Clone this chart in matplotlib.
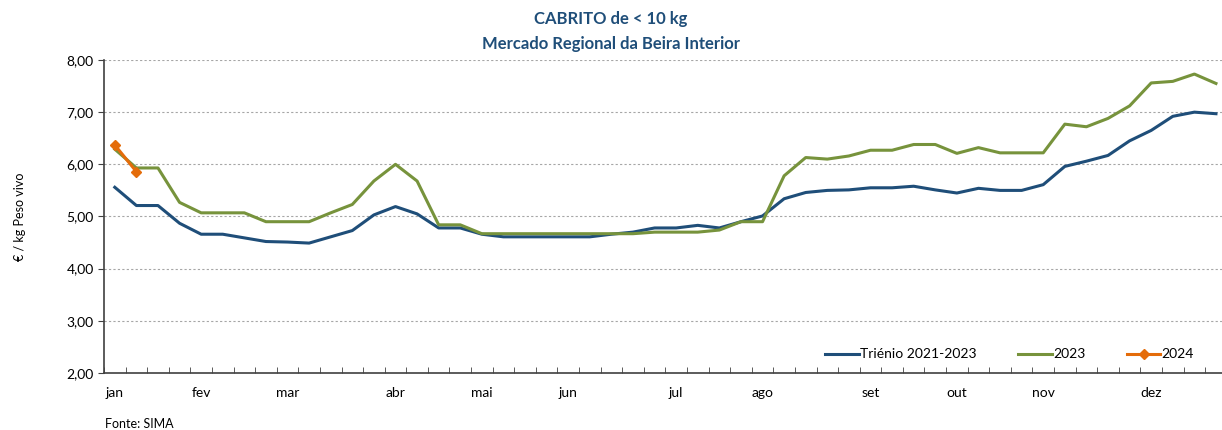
import matplotlib
matplotlib.use("Agg")
from matplotlib import pyplot as plt
from matplotlib.ticker import FuncFormatter, MultipleLocator

plt.rcParams['font.family'] = ['Lato', 'DejaVu Sans']

# semanas (52) - so a primeira semana de cada mes tem rotulo
meses = ['jan', 'fev', 'mar', 'abr', 'mai', 'jun', 'jul', 'ago', 'set', 'out', 'nov', 'dez']
semana_mes = [0, 4, 8, 13, 17, 21, 26, 30, 35, 39, 43, 48]

trienio = [5.56, 5.21, 5.21, 4.87, 4.66, 4.66, 4.59, 4.52, 4.51, 4.49,
           4.61, 4.73, 5.03, 5.19, 5.05, 4.78, 4.78, 4.66, 4.61, 4.61,
           4.61, 4.61, 4.61, 4.66, 4.70, 4.78, 4.78, 4.83, 4.78, 4.90,
           5.01, 5.34, 5.46, 5.50, 5.51, 5.55, 5.55, 5.58, 5.51, 5.45,
           5.54, 5.50, 5.50, 5.61, 5.96, 6.06, 6.17, 6.45, 6.65, 6.92,
           7.00, 6.97]
ano2023 = [6.29, 5.93, 5.93, 5.27, 5.07, 5.07, 5.07, 4.90, 4.90, 4.90,
           5.07, 5.23, 5.68, 6.00, 5.68, 4.84, 4.84, 4.67, 4.67, 4.67,
           4.67, 4.67, 4.67, 4.67, 4.67, 4.70, 4.70, 4.70, 4.74, 4.90,
           4.90, 5.78, 6.13, 6.10, 6.16, 6.27, 6.27, 6.38, 6.38, 6.21,
           6.32, 6.22, 6.22, 6.22, 6.77, 6.72, 6.88, 7.12, 7.56, 7.59,
           7.73, 7.55]
ano2024 = [6.37, 5.86]

azul = '#1F4E79'
verde = '#77933C'
laranja = '#E46C0A'

fig = plt.figure(figsize=(12.22, 4.30), dpi=100)
ax = fig.add_axes([0.0851, 0.1326, 0.9188, 0.7279])

x = list(range(len(trienio)))
ax.plot(x, trienio, color=azul, lw=2.2, label='Triénio 2021-2023')
ax.plot(x, ano2023, color=verde, lw=2.2, label='2023')
ax.plot(range(len(ano2024)), ano2024, color=laranja, lw=2.2, marker='D', ms=5,
        label='2024')

ax.set_xlim(-0.5, len(trienio) - 0.5)
ax.set_ylim(2, 8)
ax.yaxis.set_major_locator(MultipleLocator(1))
ax.yaxis.set_major_formatter(FuncFormatter(lambda v, p: ('%.2f' % v).replace('.', ',')))
ax.grid(axis='y', color='#A6A6A6', ls=(0, (2, 2)), lw=0.8)
ax.set_axisbelow(True)

# rotulos dos meses sem marca, marcas entre categorias
ax.set_xticks(semana_mes)
ax.set_xticklabels(meses)
ax.tick_params(axis='x', length=0, pad=10, labelsize=10)
ax.set_xticks([i - 0.5 for i in range(len(trienio) + 1)], minor=True)
ax.tick_params(axis='x', which='minor', direction='in', length=4, color='#404040')
ax.tick_params(axis='y', length=4, color='#404040', labelsize=10)

for s in ['top', 'right']:
    ax.spines[s].set_visible(False)
ax.spines['left'].set_color('#404040')
ax.spines['bottom'].set_color('#404040')
ax.spines['left'].set_linewidth(1.2)
ax.spines['bottom'].set_linewidth(1.2)

ax.set_ylabel('€ / kg Peso vivo', fontsize=9, labelpad=29)

ax.legend(loc='lower right', bbox_to_anchor=(0.982, 0.0), ncol=3, frameon=False,
          fontsize=10, handlelength=2.4, handletextpad=0.1, columnspacing=3.0)

fig.text(0.5, 0.955, 'CABRITO de < 10 kg', ha='center', va='center',
         fontsize=12, fontweight='bold', color=azul)
fig.text(0.5, 0.898, 'Mercado Regional da Beira Interior', ha='center', va='center',
         fontsize=12, fontweight='bold', color=azul)
fig.text(0.086, 0.005, 'Fonte: SIMA', fontsize=9)

plt.savefig('out.png', dpi=100)
